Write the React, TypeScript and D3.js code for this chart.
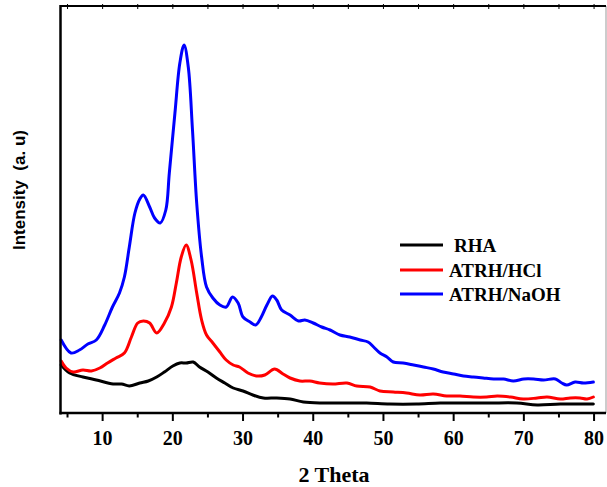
import React from "react";
import * as d3 from "d3";

// XRD patterns: 2θ (degrees) and intensity (arbitrary units)
const rhaTheta = [4.1, 5.3, 7.2, 9.1, 11.5, 12.7, 13.8, 15.3, 16.5, 17.7, 18.8, 20.0, 21.0, 21.9, 22.9, 23.8, 25.0, 26.2, 27.4, 28.6, 30.0, 31.4, 32.9, 34.8, 36.7, 38.6, 41.4, 44.8, 47.6, 50.9, 54.7, 58.1, 61.9, 65.2, 69.0, 71.9, 75.2, 79.9];
const rhaIntensity = [48, 40, 36, 33, 29, 29, 27, 30, 32, 36, 41, 47, 50, 50, 51, 46, 41, 35, 30, 25, 22, 18, 15, 15, 14, 11, 10, 10, 10, 9, 9, 10, 10, 10, 10, 8, 9, 9];

const hclTheta = [4.1, 4.8, 5.8, 7.2, 8.4, 9.6, 10.7, 11.9, 13.1, 14.1, 15.0, 15.8, 16.7, 17.7, 18.8, 19.8, 20.5, 21.2, 21.9, 22.6, 23.4, 24.1, 24.8, 25.7, 26.7, 27.6, 28.6, 29.5, 30.7, 31.9, 33.1, 34.5, 35.7, 36.7, 38.1, 39.5, 40.9, 42.8, 44.8, 46.2, 48.1, 49.5, 51.4, 53.3, 55.2, 57.1, 59.0, 60.9, 62.8, 64.7, 66.2, 68.1, 69.9, 71.9, 73.3, 75.2, 76.6, 78.0, 79.0, 79.9];
const hclIntensity = [52, 45, 41, 43, 42, 45, 50, 55, 60, 76, 90, 92, 90, 80, 90, 106, 130, 156, 168, 153, 120, 93, 78, 70, 61, 53, 48, 46, 40, 37, 38, 44, 39, 35, 32, 32, 30, 29, 30, 27, 26, 22, 21, 20, 18, 19, 17, 17, 16, 16, 17, 16, 14, 15, 16, 14, 15, 15, 14, 16];

const naohTheta = [4.1, 5.5, 6.7, 7.9, 9.1, 10.3, 11.4, 12.4, 13.1, 13.8, 14.6, 15.3, 15.8, 16.7, 17.4, 18.2, 19.0, 19.5, 20.3, 21.0, 21.6, 22.2, 22.8, 23.4, 24.1, 24.8, 25.7, 26.7, 27.6, 28.5, 29.3, 30.0, 31.0, 31.8, 32.6, 33.4, 34.2, 34.8, 35.5, 36.7, 37.9, 38.8, 40.0, 41.2, 42.4, 43.8, 45.2, 46.7, 47.8, 48.6, 49.5, 50.5, 51.4, 52.8, 54.3, 55.7, 57.1, 58.5, 60.0, 61.4, 62.8, 64.2, 65.7, 67.1, 68.5, 70.0, 71.4, 72.8, 74.5, 75.4, 76.1, 77.3, 78.5, 79.9];
const naohIntensity = [73, 60, 63, 69, 73, 88, 106, 120, 136, 166, 200, 214, 218, 206, 195, 190, 203, 240, 300, 350, 368, 346, 283, 210, 156, 126, 115, 108, 106, 116, 110, 96, 91, 88, 96, 108, 117, 113, 103, 98, 92, 93, 90, 86, 83, 78, 76, 73, 71, 66, 60, 56, 51, 50, 48, 46, 44, 41, 39, 37, 36, 35, 34, 34, 32, 34, 34, 33, 34, 30, 28, 31, 30, 31];

const seriesNames = ["RHA", "ATRH/HCl", "ATRH/NaOH"];
const seriesColors = ["#000000", "#ff0000", "#0000ff"];
const majorTicks = [10, 20, 30, 40, 50, 60, 70, 80];
const minorTicks = [5, 15, 25, 35, 45, 55, 65, 75];

const W = 607;
const H = 487;
const left = 60.5;
const right = 606;
const top = 6;
const bottom = 413;

export default function App() {
  const x = d3.scaleLinear().domain([4, 81.7]).range([left, right]);
  const y = d3.scaleLinear().domain([0, 407]).range([bottom, top]);

  const series = [
    { name: seriesNames[0], color: seriesColors[0], theta: rhaTheta, values: rhaIntensity },
    { name: seriesNames[1], color: seriesColors[1], theta: hclTheta, values: hclIntensity },
    { name: seriesNames[2], color: seriesColors[2], theta: naohTheta, values: naohIntensity },
  ];

  const line = d3
    .line<[number, number]>()
    .x((d) => x(d[0]))
    .y((d) => y(d[1]))
    .curve(d3.curveCatmullRom.alpha(0.5));

  const serif = "'Liberation Serif', 'Times New Roman', serif";
  const sans = "'Liberation Sans', Arial, sans-serif";

  const legendX0 = 400;
  const legendX1 = 443;
  const legendY = [245, 270, 294];

  return (
    <div style={{ position: "absolute", left: 0, top: 0 }}>
      <svg width={W} height={H} viewBox={`0 0 ${W} ${H}`} style={{ display: "block", background: "#fff" }}>
        <rect x={0} y={0} width={W} height={H} fill="#fff" />

        {/* data curves */}
        {series.map((s) => (
          <path
            key={s.name}
            d={line(s.theta.map((t, i) => [t, s.values[i]] as [number, number])) || ""}
            fill="none"
            stroke={s.color}
            strokeWidth={3}
            strokeLinejoin="round"
            strokeLinecap="round"
          />
        ))}

        {/* frame */}
        <line x1={right} x2={right} y1={top} y2={bottom} stroke="#999" strokeWidth={1} />
        <line x1={left} x2={right} y1={top} y2={top} stroke="#000" strokeWidth={2} />
        <line x1={left} x2={left} y1={top - 1} y2={bottom + 1.5} stroke="#000" strokeWidth={2.5} />
        <line x1={left - 1} x2={right} y1={bottom} y2={bottom} stroke="#000" strokeWidth={2.5} />

        {/* bottom ticks */}
        {majorTicks.map((t) => (
          <line key={`M${t}`} x1={x(t)} x2={x(t)} y1={bottom} y2={bottom + 8} stroke="#000" strokeWidth={2} />
        ))}
        {minorTicks.map((t) => (
          <line key={`m${t}`} x1={x(t)} x2={x(t)} y1={bottom} y2={bottom + 4.5} stroke="#000" strokeWidth={2} />
        ))}
        {/* top ticks */}
        {[...majorTicks, ...minorTicks].map((t) => (
          <line key={`t${t}`} x1={x(t)} x2={x(t)} y1={top - 2} y2={top + 3} stroke="#000" strokeWidth={1} />
        ))}

        {/* tick labels */}
        {majorTicks.map((t) => (
          <text
            key={`l${t}`}
            x={x(t)}
            y={445}
            textAnchor="middle"
            fontFamily={serif}
            fontWeight="bold"
            fontSize={20}
            fill="#000"
          >
            {t}
          </text>
        ))}

        {/* axis titles */}
        <text x={334} y={482} textAnchor="middle" fontFamily={serif} fontWeight="bold" fontSize={22} fill="#000">
          2 Theta
        </text>
        <text
          transform="translate(25,190) rotate(-90)"
          textAnchor="middle"
          fontFamily={sans}
          fontWeight="bold"
          fontSize={17}
          fill="#000"
          style={{ whiteSpace: "pre" }}
        >
          {"Intensity  (a. u)"}
        </text>

        {/* legend */}
        {series.map((s, i) => (
          <g key={`leg${s.name}`}>
            <line x1={legendX0} x2={legendX1} y1={legendY[i]} y2={legendY[i]} stroke={s.color} strokeWidth={3} />
            <text
              x={i === 0 ? 454 : 449}
              y={legendY[i] + 7}
              fontFamily={serif}
              fontWeight="bold"
              fontSize={19}
              fill="#000"
            >
              {s.name}
            </text>
          </g>
        ))}
      </svg>
    </div>
  );
}
